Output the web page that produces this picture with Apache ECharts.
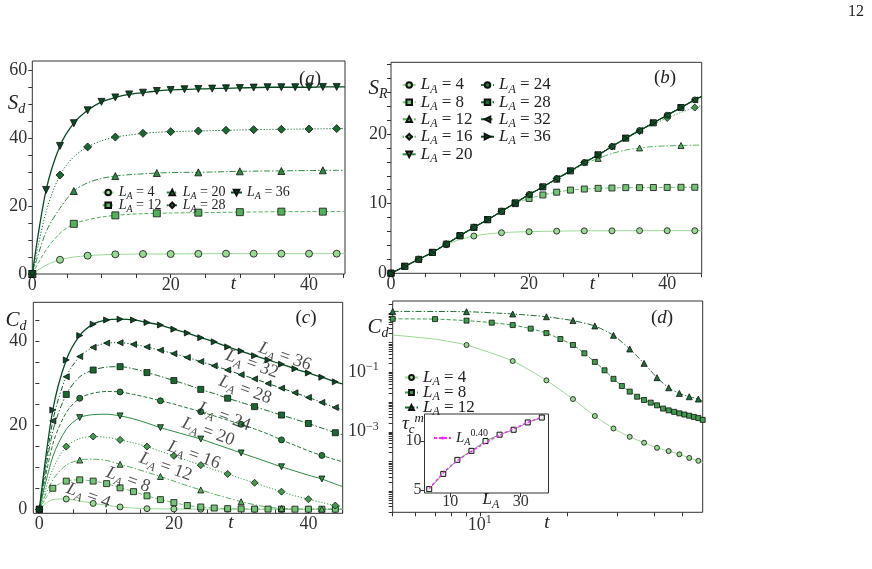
<!DOCTYPE html>
<html><head><meta charset="utf-8">
<script src="https://cdn.jsdelivr.net/npm/echarts@6/dist/echarts.min.js"></script>
<style>html,body{margin:0;padding:0;background:#fff}#c{width:872px;height:569px}</style>
</head><body><div id="c"></div>
<script>
// ================= DATA =================
// (a) S_d vs t
const tA = [0,2,4,6,8,10,12,14,16,18,20,22,24,26,28,30,32,34,36,38,40,42,44,45.2];
const sdL4  = [0,2.6,4.2,5.0,5.4,5.65,5.8,5.85,5.9,5.9,5.9,5.95,5.95,6.0,6.0,6.0,6.0,6.0,6.0,6.0,6.0,6.0,6.0,6.0];
const sdL12 = [0,7.1,12.0,14.8,16.0,16.8,17.3,17.6,17.8,17.9,18.0,18.05,18.1,18.15,18.2,18.25,18.3,18.35,18.4,18.4,18.4,18.4,18.45,18.45];
const sdL20 = [0,12.5,19.4,24.5,26.9,28.2,28.9,29.3,29.55,29.8,29.9,30.0,30.0,30.1,30.2,30.3,30.35,30.4,30.4,30.5,30.5,30.6,30.6,30.6];
const sdL28 = [0,18.4,29.2,34.6,37.5,39.3,40.4,41.0,41.5,41.8,42.0,42.1,42.2,42.3,42.4,42.5,42.6,42.65,42.7,42.75,42.8,42.85,42.9,42.9];
const sdL36 = [0,24.8,37.8,44.5,48.3,50.8,52.1,53.0,53.5,54.0,54.3,54.5,54.6,54.7,54.8,54.9,55.0,55.1,55.1,55.1,55.1,55.2,55.2,55.2];

// (b) S_R vs t
const tB = [0,2,4,6,8,10,12,14,16,18,20,22,24,26,28,30,32,34,36,38,40,42,44,45];
const sRmain = [0,1.0,2.0,3.0,4.2,5.4,6.6,7.7,8.9,10.1,11.3,12.4,13.6,14.7,15.9,17.0,18.2,19.4,20.5,21.6,22.7,23.8,24.9,25.4];
const sRL4  = [0,1.0,2.0,3.0,4.1,4.85,5.35,5.65,5.83,5.93,5.97,6.02,6.05,6.08,6.1,6.1,6.1,6.12,6.12,6.12,6.12,6.12,6.12,6.12];
const sRL8  = [0,1.0,2.0,3.0,4.2,5.4,6.6,7.7,8.9,10.0,10.75,11.25,11.65,11.95,12.1,12.2,12.25,12.3,12.3,12.32,12.33,12.35,12.35,12.35];
const sRL12 = [0,1.0,2.0,3.0,4.2,5.4,6.6,7.7,8.9,10.1,11.3,12.4,13.5,14.6,15.7,16.5,17.2,17.7,18.0,18.2,18.3,18.35,18.4,18.4];
const sRL16 = [0,1.0,2.0,3.0,4.2,5.4,6.6,7.7,8.9,10.1,11.3,12.4,13.6,14.7,15.9,17.0,18.2,19.3,20.4,21.4,22.3,23.1,23.8,24.1];

// (c) C_d vs t
const tC = [0,2,4,6,8,10,12,14,16,18,20,22,24,26,28,30,32,34,36,38,40,42,44,45.1];
const cdL4  = [0,2.3,2.45,2.0,1.4,0.95,0.55,0.3,0.15,0.1,0.08,0.05,0.03,0.02,0.02,0.01,0.01,0.01,0.01,0.01,0.01,0.01,0.01,0.01];
const cdL8  = [0,5.0,6.7,7.0,6.7,6.1,5.1,4.2,3.2,2.3,1.6,0.9,0.55,0.3,0.15,0.1,0.06,0.05,0.04,0.03,0.03,0.03,0.03,0.03];
const cdL12 = [0,7.0,10.5,11.7,11.9,11.6,10.7,9.8,8.8,7.8,6.7,5.6,4.6,3.6,2.7,1.8,1.1,0.5,0.2,0.1,0.07,0.06,0.05,0.05];
const cdL16 = [0,9.5,14.9,16.8,17.3,17.1,16.5,15.8,14.9,13.8,12.7,11.6,10.5,9.4,8.4,7.3,6.3,5.2,4.2,3.2,2.4,1.6,0.9,0.7];
const cdL20 = [0,12.5,19.0,21.8,22.5,22.6,22.2,21.5,20.5,19.4,18.5,17.6,16.7,15.6,14.5,13.4,12.3,11.2,10.1,9.1,8.1,7.2,6.0,5.4];
const cdL24 = [0,15.5,23.0,26.4,27.6,28.0,27.9,27.3,26.6,25.8,25.0,24.1,23.2,22.2,21.2,20.2,19.1,17.9,16.5,15.2,13.9,12.8,11.8,11.3];
const cdL28 = [0,18.5,27.3,31.5,33.1,33.8,33.9,33.4,32.5,31.6,30.6,29.6,28.5,27.5,26.4,25.4,24.4,23.4,22.4,21.4,20.4,19.3,18.2,17.7];
const cdL32 = [0,21.0,31.5,36.3,38.5,39.5,39.6,39.2,38.6,37.8,37.0,36.1,35.1,34.1,33.1,32.0,31.0,29.9,28.8,27.7,26.6,25.4,24.2,23.6];
const cdL36 = [0,23.6,35.5,41.3,44.0,45.0,45.2,45.0,44.4,43.8,42.8,41.9,40.8,39.8,38.6,37.6,36.5,35.5,34.5,33.4,32.4,31.4,30.3,29.8];
// label anchors for curve names in (c): [t, C_d]
const labelLC   = [36,32,28,24,20,16,12,8,4];
const labelPosC = [[36.5,36.3],[31.6,34.5],[30.6,28.4],[27.5,22.0],[25.1,18.4],[23.0,12.9],[18.8,10.1],[13.2,7.0],[7.3,3.2]];

// (d) C_d vs t (log-log)
const tD4  = [5,7,9,13,17,21,25,29,33,37,41,45,49,53,57,59];
const cD4  = [1.80,1.30,0.83,0.24,0.0537,0.0126,0.00339,0.00129,0.000676,0.000427,0.000288,0.000224,0.000174,0.000132,0.000105,0.000093];
const tD8  = [5,7,9,11,13,15,17,19,21,23,25,27,29,31,33,35,37,39,41,43,45,47,49,51,53,55,57,59];
const cD8  = [6.31,6.17,5.50,4.68,3.89,2.95,2.09,1.32,0.832,0.437,0.224,0.117,0.0603,0.0347,0.0224,0.0151,0.0117,0.00955,0.00776,0.00603,0.00525,0.00468,0.00417,0.0038,0.00347,0.00316,0.00288,0.00251];
const tD12 = [5,9,13,17,21,25,29,33,37,41,45,49,53,57,59];
const cD12 = [11.2,10.96,9.18,7.41,5.50,3.63,1.76,0.61,0.20,0.066,0.0302,0.0195,0.0151,0.0126,0.0107];
// inset: tau_c^m vs L_A
const LInset   = [4,8,12,16,20,24,28,32,36];
const tauInset = [5.1,6.65,8.08,9.0,10.0,10.65,11.15,11.9,12.4];
const tauFit   = [5.15,6.75,8.0,8.95,9.8,10.6,11.25,11.9,12.45];

// tick / label values
const ticksT = [0,5,10,15,20,25,30,35,40,45];
const labelsT = [0,20,40];
const ticksSd = [0,5,10,15,20,25,30,35,40,45,50,55,60];
const labelsSd = [0,20,40,60];
const ticksSR = [0,2,4,6,8,10,12,14,16,18,20,22,24,26,28,30];
const labelsSR = [0,10,20];
const ticksCd = [0,5,10,15,20,25,30,35,40,45];
const labelsCd = [0,20,40];
const ticksTd = [5,6,7,8,9,10,20,30,40,50];
const labelsTd = [10];
const decadesD = [-6,-5,-4,-3,-2,-1,0,1];
const mantissas = [1,2,3,4,5,6,7,8,9];
const labelsCdLog = [0.1, 0.001];
const ticksInsetX = [10,20,30];
const labelsInsetX = [10,30];
const ticksInsetY = [5,10];

// ================= STYLE =================
const SERIF = 'Liberation Serif';
const INK = '#222';
const green = {4:'#9ad994',8:'#74c476',12:'#55b05c',16:'#3f9c4d',20:'#2e8a42',24:'#237a39',28:'#196a31',32:'#105b2a',36:'#074a21'};
const DASH = {solid:'solid', dashed:[4,2], dashdot:[6,2,1.5,2], dotted:[1.2,1.8], dashdotdot:[5,2,1.2,2,1.2,2]};
function R(fs){
  const lh = Math.round(fs*1.25), sf = Math.round(fs*0.68);
  return {
    i:{fontFamily:SERIF,fontStyle:'italic',fontSize:fs,color:INK,lineHeight:lh},
    n:{fontFamily:SERIF,fontSize:fs,color:INK,lineHeight:lh},
    s:{fontFamily:SERIF,fontStyle:'italic',fontSize:sf,color:INK,verticalAlign:'bottom',lineHeight:sf},
    u:{fontFamily:SERIF,fontSize:sf,color:INK,verticalAlign:'top',lineHeight:sf},
    ui:{fontFamily:SERIF,fontStyle:'italic',fontSize:sf,color:INK,verticalAlign:'top',lineHeight:sf}
  };
}
const LA = L => '{i|L}{s|A}{n| = ' + L + '}';

function mk(name, gi, ts, vs, L, dash, sym, rot, markFn, o){
  o = o || {};
  const n = ts.length;
  return {
    name, type:'line', xAxisIndex:gi, yAxisIndex:gi,
    data: ts.map((t,i)=>({value:[t, vs[i]], symbol: markFn(i,n) ? sym : 'none'})),
    showSymbol:true, showAllSymbol:true, symbol:sym, symbolSize:o.size||7, symbolRotate:rot||0,
    smooth:o.smooth==null?0.3:o.smooth,
    lineStyle:{color:o.color||green[L], width:o.lw||1, type:DASH[dash]},
    itemStyle:{color:o.color||green[L], borderColor:'#111', borderWidth:0.8},
    emphasis:{disabled:true}, animation:false, z:o.z||2, clip:true
  };
}
const every = (k, off) => (i,n) => i < n-1 && (i===0 || (i>=off && (i-off)%k===0));
const all = (i,n) => i < n-1;

// ================= SERIES =================
const series = [
  // (a)
  mk('a4',0,tA,sdL4,4,'solid','circle',0,every(2,0)),
  mk('a12',0,tA,sdL12,12,'dashed','rect',0,every(3,0),{size:7}),
  mk('a20',0,tA,sdL20,20,'dashdot','triangle',0,every(3,0)),
  mk('a28',0,tA,sdL28,28,'dotted','diamond',0,every(2,0),{size:8}),
  mk('a36',0,tA,sdL36,36,'solid','triangle',180,all,{lw:1.3}),
  // (b)
  mk('b4',1,tB,sRL4,4,'solid','circle',0,every(2,0),{size:6}),
  mk('b8',1,tB,sRL8,8,'dashed','rect',0,all,{size:6}),
  mk('b12',1,tB,sRL12,12,'dashdot','triangle',0,every(3,0),{size:6}),
  mk('b16',1,tB,sRL16,16,'dotted','diamond',0,every(2,0),{size:7}),
  mk('b20',1,tB,sRmain,20,'solid','triangle',180,every(2,1),{size:6}),
  mk('b24',1,tB,sRmain,24,'dashed','circle',0,every(2,0),{size:6}),
  mk('b28',1,tB,sRmain,28,'dashdot','rect',0,every(2,1),{size:6}),
  mk('b32',1,tB,sRmain,32,'dashdotdot','triangle',90,every(2,0),{size:6}),
  mk('b36',1,tB,sRmain,36,'solid','triangle',-90,every(2,1),{size:6,lw:1.3}),
  // (c)
  mk('c4',2,tC,cdL4,4,'solid','circle',0,every(2,0),{size:6}),
  mk('c8',2,tC,cdL8,8,'dashed','rect',0,all,{size:6}),
  mk('c12',2,tC,cdL12,12,'dashdot','triangle',0,every(3,0),{size:6}),
  mk('c16',2,tC,cdL16,16,'dotted','diamond',0,every(2,0),{size:7}),
  mk('c20',2,tC,cdL20,20,'solid','triangle',180,every(3,0),{size:6}),
  mk('c24',2,tC,cdL24,24,'dashed','circle',0,every(3,0),{size:6}),
  mk('c28',2,tC,cdL28,28,'dashdot','rect',0,every(2,0),{size:6}),
  mk('c32',2,tC,cdL32,32,'dashdotdot','triangle',90,all,{size:6}),
  mk('c36',2,tC,cdL36,36,'solid','triangle',-90,all,{size:6,lw:1.3}),
  // (d)
  mk('d4',3,tD4,cD4,4,'solid','circle',0,(i,n)=>i>=2&&i<n-1,{size:5,smooth:0.2}),
  mk('d8',3,tD8,cD8,8,'dashed','rect',0,(i,n)=>true,{size:5,smooth:0.2,color:'#3f9c4d'}),
  mk('d12',3,tD12,cD12,12,'dashdot','triangle',0,all,{size:6,smooth:0.2,color:'#1f6e35'}),
  // inset
  {name:'tau', type:'line', xAxisIndex:4, yAxisIndex:4, data:LInset.map((l,i)=>[l,tauInset[i]]),
   symbol:'rect', symbolSize:5, lineStyle:{color:'#55b05c',width:1}, itemStyle:{color:'#e8f0e8',borderColor:'#111',borderWidth:1},
   animation:false, z:5, emphasis:{disabled:true}},
  {name:'fit', type:'line', xAxisIndex:4, yAxisIndex:4, data:LInset.map((l,i)=>[l,tauFit[i]]),
   symbol:'none', smooth:0.3, lineStyle:{color:'#ff22ff',width:1.3,type:[3,2]}, itemStyle:{color:'#ff22ff'},
   animation:false, z:6, emphasis:{disabled:true}},
  // curve-name labels in (c)
  {name:'clabels', type:'scatter', xAxisIndex:2, yAxisIndex:2, symbolSize:1, itemStyle:{color:'rgba(0,0,0,0)'},
   data: labelPosC.map((p,i)=>({value:p, name:String(labelLC[i])})),
   label:{show:true, position:'inside', rotate:-20, formatter:p=>LA(p.name), rich:R(18)}, z:7, animation:false,
   emphasis:{disabled:true}}
];

// ================= AXES =================
function vAxis(gi, type, min, max, ticks, labels, extra){
  const a = {
    gridIndex:gi, type, min, max,
    axisLine:{show:false}, splitLine:{show:false},
    axisTick:{show:true, inside:false, length:4, lineStyle:{color:'#333',width:1}, customValues:ticks},
    axisLabel:{show:true, customValues:labels, fontFamily:SERIF, fontSize:18, color:'#333', margin:4}
  };
  if (type==='log') a.logBase = 10;
  return Object.assign(a, extra||{}, {axisLabel:Object.assign(a.axisLabel, (extra&&extra.axisLabel)||{})});
}
const logTicksY = [];
decadesD.forEach(k=>mantissas.forEach(m=>logTicksY.push(m*Math.pow(10,k))));
const expFmt = v => { const e = Math.round(Math.log10(v)); return '{b|10}{e|' + (e<0?'\u2212':'') + Math.abs(e) + '}'; };
const expRich = {b:{fontFamily:SERIF,fontSize:18,color:'#333',lineHeight:22}, e:{fontFamily:SERIF,fontSize:12,color:'#333',verticalAlign:'top',lineHeight:12}};

const xAxis = [
  vAxis(0,'value',0,45.2,ticksT,labelsT,{axisLabel:{margin:2}}),
  vAxis(1,'value',0,45,ticksT,labelsT,{axisLabel:{margin:2}}),
  vAxis(2,'value',-0.9,45.1,ticksT,labelsT,{axisLabel:{margin:2}}),
  vAxis(3,'log',5,59,ticksTd,labelsTd,{axisLabel:{margin:2, formatter:expFmt, rich:expRich}}),
  vAxis(4,'value',2.66,37.9,ticksInsetX,labelsInsetX,{axisLabel:{margin:1,fontSize:16}})
];
const yAxis = [
  vAxis(0,'value',0,62.85,ticksSd,labelsSd,{axisLabel:{margin:5}}),
  vAxis(1,'value',0,30.3,ticksSR,labelsSR,{axisLabel:{margin:4}}),
  vAxis(2,'value',-0.95,49.2,ticksCd,labelsCd,{axisLabel:{margin:6}}),
  vAxis(3,'log',1.95e-6,25.1,logTicksY,labelsCdLog,{axisLabel:{margin:14, formatter:expFmt, rich:expRich}}),
  vAxis(4,'value',4.7,12.76,ticksInsetY,ticksInsetY,{axisLabel:{margin:3,fontSize:16}})
];

const grid = [
  {left:32.3, top:61, width:312.7, height:213},
  {left:391, top:62.3, width:310.7, height:211},
  {left:33.3, top:302.3, width:309.4, height:211},
  {left:392.7, top:301, width:310, height:211.3},
  {left:424.5, top:414, width:124, height:79, backgroundColor:'#fff', z:4}
].map(g=>Object.assign({show:true, borderColor:'#333', borderWidth:1, backgroundColor:'transparent', containLabel:false}, g));

// ================= LEGENDS =================
function leg(name, left, cy, fs, iw, ih, fmt){
  ih = ih || 7;
  return {data:[name], left, top:cy-ih/2, itemWidth:iw, itemHeight:ih, itemGap:0, padding:0, selectedMode:false,
    formatter: fmt || (n=>LA(n.slice(1))), textStyle:{rich:R(fs)}, animation:false};
}
const legend = [
  leg('a4',101.7,189,14,11), leg('a20',165.7,189,14,11), leg('a36',230,189,14,11),
  leg('a12',101.7,201.7,14,11), leg('a28',165.7,201.7,14,11),
  leg('b4',401.7,80,17,13), leg('b8',401.7,97.3,17,13), leg('b12',401.7,114.3,17,13), leg('b16',401.7,131.7,17,13), leg('b20',401.7,149.3,17,13),
  leg('b24',480,80,17,13), leg('b28',480,97.3,17,13), leg('b32',480,114.3,17,13), leg('b36',480,131.7,17,13),
  leg('d4',404,372,17,13,6), leg('d8',404,387,17,13,6), leg('d12',404,402,17,13,6),
  leg('fit',433,430.5,15,17,4,()=>'{i|L}{s|A}{u|0.40}')
];

// ================= TEXT =================
function T(x,y,text,fs,extra){
  return Object.assign({type:'text', x, y, z:100, style:{text, rich:R(fs), align:'center', verticalAlign:'middle', fill:INK}}, extra||{});
}
const graphic = [
  {type:'text', x:856, y:12, z:100, style:{text:'12', fontFamily:SERIF, fontSize:16, fill:INK, align:'center', verticalAlign:'middle'}},
  T(16.5,103,'{i|S}{s|d}',21), T(310,79,'{n|(}{i|a}{n|)}',19), T(233.5,284,'{i|t}',19),
  T(378,88,'{i|S}{s|R}',21), T(665,78,'{n|(}{i|b}{n|)}',19), T(592.5,284,'{i|t}',19),
  T(16,320,'{i|C}{s|d}',21), T(306,318,'{n|(}{i|c}{n|)}',19), T(231,523,'{i|t}',19),
  T(378,327,'{i|C}{s|d}',21), T(662,318,'{n|(}{i|d}{n|)}',19), T(547,523,'{i|t}',19),
  T(413,424,'{i|\u03c4}{s|c}{ui|m}',19), T(491,500,'{i|L}{s|A}',17)
];

const chart = echarts.init(document.getElementById('c'), null, {renderer:'canvas'});
chart.setOption({animation:false, backgroundColor:'#fff', grid, xAxis, yAxis, series, legend, graphic});
</script></body></html>
